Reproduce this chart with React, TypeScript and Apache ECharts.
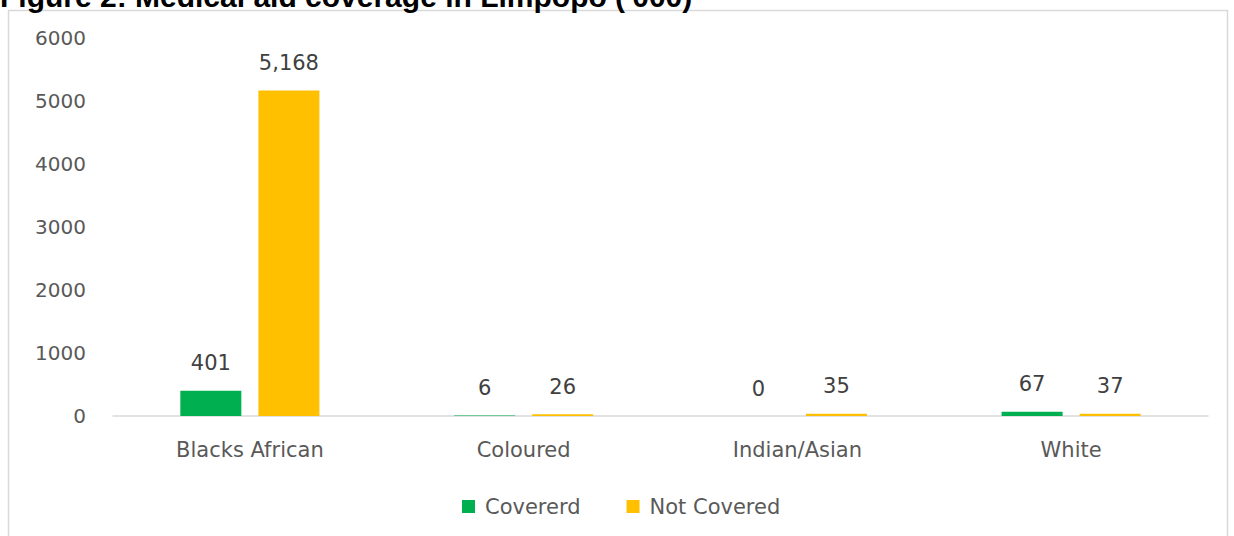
import React, { useEffect, useRef } from "react";
import * as echarts from "echarts";

const categories = ["Blacks African", "Coloured", "Indian/Asian", "White"];
const coveredValues = [401, 6, 0, 67];
const notCoveredValues = [5168, 26, 35, 37];
const seriesNames = ["Covererd", "Not Covered"];
const titleText = "Figure 2: Medical aid coverage in Limpopo ('000)";

const FONT = "'DejaVu Sans', sans-serif";

export default function App() {
  const ref = useRef<HTMLDivElement>(null);
  useEffect(() => {
    if (!ref.current) return;
    const chart = echarts.init(ref.current, null, { renderer: "svg" });
    const fmt = (p: any) => Number(p.value).toLocaleString("en-US");
    const labelStyle = {
      show: true,
      position: "top",
      distance: 17,
      formatter: fmt,
      fontFamily: FONT,
      fontSize: 21,
      color: "#404040",
    };
    chart.setOption({
      animation: false,
      backgroundColor: "#ffffff",
      graphic: [
        {
          type: "rect",
          shape: { x: 8.5, y: 10.5, width: 1219, height: 540 },
          style: { fill: "#ffffff", stroke: "#d9d9d9", lineWidth: 1.5 },
          z: -10,
        },
        {
          type: "text",
          x: 0,
          y: 11,
          style: {
            text: titleText,
            font: "bold 30px Arial, 'Liberation Sans', sans-serif",
            fill: "#000000",
            verticalAlign: "bottom",
            align: "left",
          },
        },
      ],
      grid: { left: 113, right: 26, top: 38, bottom: 120, containLabel: false },
      legend: {
        data: seriesNames,
        left: 457,
        top: 491,
        itemWidth: 13,
        itemHeight: 13,
        itemGap: 46,
        icon: "rect",
        textStyle: { fontFamily: FONT, fontSize: 21, color: "#595959", padding: [0, 0, 0, 5] },
      },
      xAxis: {
        type: "category",
        data: categories,
        axisLine: { lineStyle: { color: "#d9d9d9", width: 1.5 } },
        axisTick: { show: false },
        axisLabel: { fontFamily: FONT, fontSize: 21, color: "#595959", margin: 23 },
      },
      yAxis: {
        type: "value",
        min: 0,
        max: 6000,
        interval: 1000,
        splitLine: { show: false },
        axisLine: { show: false },
        axisTick: { show: false },
        axisLabel: {
          fontFamily: FONT,
          fontSize: 20,
          color: "#595959",
          margin: 27,
          formatter: (v: number) => String(v),
        },
      },
      series: [
        {
          name: seriesNames[0],
          type: "bar",
          data: coveredValues,
          barWidth: 61,
          barGap: "28%",
          itemStyle: { color: "#00B050" },
          label: labelStyle,
        },
        {
          name: seriesNames[1],
          type: "bar",
          data: notCoveredValues,
          barWidth: 61,
          itemStyle: { color: "#FFC000" },
          label: labelStyle,
        },
      ],
    });
    return () => chart.dispose();
  }, []);
  return (
    <div
      ref={ref}
      style={{ position: "fixed", left: 0, top: 0, width: 1234, height: 536 }}
    />
  );
}
